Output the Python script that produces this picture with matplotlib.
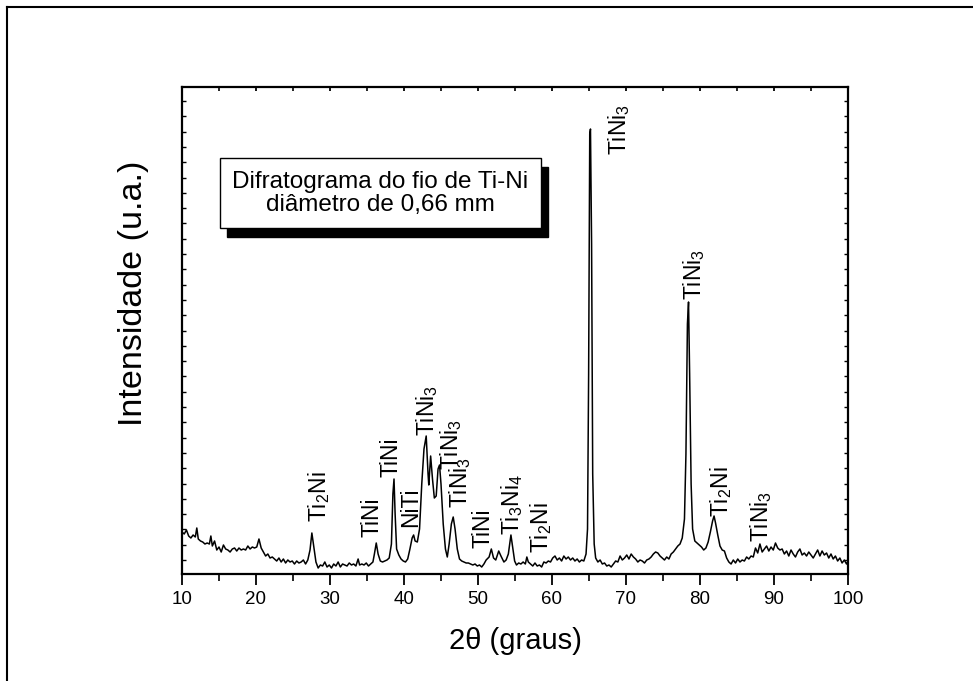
import numpy as np
import matplotlib
matplotlib.use("Agg")
import matplotlib.pyplot as plt
from matplotlib.patches import Rectangle
from matplotlib.lines import Line2D
from matplotlib.ticker import MultipleLocator, FixedLocator, NullFormatter

plt.rcParams['font.family'] = ['Liberation Sans', 'DejaVu Sans']
plt.rcParams['mathtext.fontset'] = 'custom'
plt.rcParams['mathtext.rm'] = 'Liberation Sans'
plt.rcParams['mathtext.it'] = 'Liberation Sans:italic'

# ---- data: 2theta (degrees) and intensity (a.u.) ----
two_theta = [
    10.0, 10.3, 10.6, 10.9, 11.2, 11.5, 11.8, 12.0, 12.2, 12.5, 12.8, 13.1, 13.4, 13.7, 13.9,
    14.1, 14.4, 14.7, 15.0, 15.3, 15.6, 15.9, 16.2, 16.5, 16.8, 17.1, 17.4, 17.7, 18.0, 18.3,
    18.6, 18.9, 19.2, 19.5, 19.8, 20.1, 20.4, 20.7, 21.0, 21.3, 21.6, 21.9, 22.2, 22.5, 22.8,
    23.1, 23.4, 23.7, 24.0, 24.3, 24.6, 24.9, 25.2, 25.5, 25.8, 26.1, 26.4, 26.7, 27.0, 27.3,
    27.55, 27.8, 28.1, 28.4, 28.7, 29.0, 29.3, 29.6, 29.9, 30.2, 30.5, 30.8, 31.1, 31.4, 31.7,
    32.0, 32.3, 32.6, 32.9, 33.2, 33.5, 33.8, 34.0, 34.3, 34.6, 34.9, 35.2, 35.5, 35.8, 36.0,
    36.25, 36.5, 36.8, 37.1, 37.4, 37.7, 38.0, 38.3, 38.5, 38.65, 38.8, 39.0, 39.3, 39.6, 39.9,
    40.2, 40.5, 40.8, 41.1, 41.3, 41.5, 41.8, 42.1, 42.4, 42.7, 43.0, 43.25, 43.35, 43.6, 43.85,
    44.1, 44.35, 44.6, 44.8, 45.0, 45.3, 45.6, 45.85, 46.1, 46.4, 46.65, 46.9, 47.2, 47.5, 47.8,
    48.1, 48.4, 48.7, 49.0, 49.3, 49.6, 49.9, 50.2, 50.5, 50.8, 51.1, 51.5, 51.8, 52.1, 52.4,
    52.8, 53.1, 53.5, 53.8, 54.1, 54.45, 54.7, 54.95, 55.2, 55.5, 55.8, 56.1, 56.4, 56.6, 56.8,
    57.1, 57.4, 57.7, 58.0, 58.3, 58.6, 58.9, 59.2, 59.5, 59.8, 60.1, 60.4, 60.7, 61.0, 61.3,
    61.6, 61.9, 62.2, 62.5, 62.8, 63.1, 63.4, 63.7, 64.0, 64.3, 64.6, 64.8, 64.95, 65.1, 65.2,
    65.35, 65.5, 65.7, 65.9, 66.2, 66.5, 66.8, 67.1, 67.4, 67.7, 68.0, 68.3, 68.6, 68.9, 69.2,
    69.5, 69.8, 70.1, 70.4, 70.7, 71.0, 71.3, 71.6, 71.9, 72.2, 72.5, 72.8, 73.1, 73.4, 73.7,
    74.0, 74.3, 74.6, 74.9, 75.2, 75.5, 75.8, 76.1, 76.4, 76.7, 77.0, 77.3, 77.6, 77.9, 78.1,
    78.3, 78.45, 78.6, 78.8, 79.0, 79.3, 79.6, 79.9, 80.2, 80.5, 80.8, 81.1, 81.4, 81.7, 81.9,
    82.1, 82.4, 82.7, 83.0, 83.3, 83.6, 83.9, 84.2, 84.5, 84.8, 85.1, 85.4, 85.7, 86.0, 86.3,
    86.6, 86.9, 87.2, 87.5, 87.8, 88.1, 88.4, 88.7, 89.0, 89.3, 89.6, 89.9, 90.2, 90.5, 90.8,
    91.1, 91.4, 91.7, 92.0, 92.3, 92.6, 92.9, 93.2, 93.5, 93.8, 94.1, 94.4, 94.7, 95.0, 95.3,
    95.6, 95.9, 96.2, 96.5, 96.8, 97.1, 97.4, 97.7, 98.0, 98.3, 98.6, 98.9, 99.2, 99.5, 99.8,
    100.0,
]
intensity = [
    42, 40, 44, 38, 36, 39, 37, 46, 35, 33, 32, 30, 31, 30, 38,
    28, 33, 24, 27, 22, 29, 25, 24, 22, 25, 26, 23, 26, 24, 25,
    24, 28, 25, 27, 26, 27, 35, 26, 22, 18, 20, 16, 17, 15, 13,
    16, 12, 15, 11, 14, 12, 13, 10, 13, 11, 12, 14, 10, 14, 24,
    41, 28, 12, 6, 9, 8, 12, 7, 9, 6, 10, 8, 12, 7, 10,
    9, 8, 11, 9, 10, 8, 15, 9, 10, 9, 11, 8, 10, 12, 20,
    31, 20, 13, 12, 13, 14, 16, 30, 80, 95, 60, 25, 19, 15, 13,
    12, 15, 25, 36, 39, 33, 32, 45, 90, 125, 138, 100, 89, 118, 95,
    76, 78, 105, 109, 90, 50, 25, 17, 30, 50, 57, 45, 25, 15, 13,
    12, 11, 11, 10, 9, 10, 8, 9, 7, 10, 14, 17, 25, 16, 14,
    23, 18, 12, 14, 20, 39, 26, 13, 9, 11, 10, 12, 10, 17, 12,
    10, 8, 11, 8, 9, 7, 12, 11, 13, 12, 16, 18, 14, 16, 13,
    18, 15, 17, 14, 16, 13, 15, 12, 14, 13, 20, 45, 200, 440, 445,
    330, 100, 30, 16, 12, 14, 10, 11, 8, 9, 7, 10, 13, 12, 18,
    14, 16, 19, 15, 20, 17, 15, 12, 14, 13, 11, 14, 15, 17, 20,
    22, 21, 18, 16, 14, 17, 15, 20, 22, 25, 28, 30, 36, 55, 120,
    250, 272, 200, 90, 45, 33, 31, 29, 27, 24, 26, 32, 42, 53, 58,
    51, 39, 28, 24, 23, 16, 12, 10, 14, 11, 15, 12, 14, 13, 17,
    15, 18, 17, 26, 21, 30, 22, 25, 28, 23, 27, 24, 31, 26, 24,
    25, 20, 23, 18, 24, 20, 17, 22, 25, 19, 21, 18, 22, 19, 16,
    20, 24, 18, 23, 19, 21, 16, 20, 15, 18, 13, 16, 11, 14, 10,
    13,
]

# ---- peak labels ----
label_text = [r'Ti$_\mathregular{2}$Ni', 'TiNi', 'TiNi', 'NiTi',
              r'TiNi$_\mathregular{3}$', r'TiNi$_\mathregular{3}$', r'TiNi$_\mathregular{3}$',
              'TiNi', r'Ti$_\mathregular{3}$Ni$_\mathregular{4}$', r'Ti$_\mathregular{2}$Ni',
              r'TiNi$_\mathregular{3}$', r'TiNi$_\mathregular{3}$', r'Ti$_\mathregular{2}$Ni',
              r'TiNi$_\mathregular{3}$']
label_x = [28.5, 35.7, 38.2, 40.9, 43.05, 46.3, 47.6, 50.7, 54.6, 58.5, 69.05, 79.2, 82.8, 88.3]
label_y = [52, 37, 97, 47, 138, 104, 66, 26, 39, 21, 419, 274, 57, 32]

W, H = 973, 681
fig = plt.figure(figsize=(W / 100, H / 100), dpi=100)
fig.patch.set_facecolor('white')

# outer frame (left and top edges visible)
fig.add_artist(Line2D([7 / W, 7 / W], [0, 1 - 7 / H], transform=fig.transFigure, color='black', lw=1.5))
fig.add_artist(Line2D([7 / W, 1], [1 - 7 / H, 1 - 7 / H], transform=fig.transFigure, color='black', lw=1.5))

ax = fig.add_axes([182 / W, 1 - 574 / H, 666 / W, 487 / H])
ax.plot(two_theta, intensity, color='black', lw=1.1)
ax.set_xlim(10, 100)
ax.set_ylim(0, 487)

for s in ax.spines.values():
    s.set_linewidth(1.6)

ax.xaxis.set_major_locator(MultipleLocator(10))
ax.xaxis.set_minor_locator(MultipleLocator(5))
ax.tick_params(axis='x', which='major', direction='out', length=8, width=1.3,
               labelsize=13.5, pad=4, top=True)
ax.tick_params(axis='x', which='minor', direction='out', length=5, width=1.2, top=True)
for t in ax.xaxis.get_major_ticks() + ax.xaxis.get_minor_ticks():
    t.tick2line.set_marker(3)  # inward at top
    t.tick2line.set_markersize(3)

ax.yaxis.set_major_locator(FixedLocator(np.arange(14, 487, 15.3)))
ax.yaxis.set_major_formatter(NullFormatter())
ax.tick_params(axis='y', which='major', direction='in', length=3, width=1.0, right=True)

ax.set_xlabel('2θ (graus)', fontsize=21, labelpad=14)
ax.set_ylabel('Intensidade (u.a.)', fontsize=24.5)
ax.yaxis.set_label_coords(-0.05, 0.577)

for txt, xx, yy in zip(label_text, label_x, label_y):
    ax.text(xx, yy, txt, rotation=90, ha='center', va='bottom', fontsize=16.5)

# title box with shadow
ax.add_patch(Rectangle((0.0676, 0.692), 0.482, 0.144, transform=ax.transAxes,
                       facecolor='black', edgecolor='black', zorder=4))
ax.add_patch(Rectangle((0.0571, 0.7105), 0.482, 0.1435, transform=ax.transAxes,
                       facecolor='white', edgecolor='black', lw=1.0, zorder=5))
ax.text(0.298, 0.782, 'Difratograma do fio de Ti-Ni\ndiâmetro de 0,66 mm',
        transform=ax.transAxes, ha='center', va='center', fontsize=17.5,
        linespacing=1.05, zorder=6)

fig.savefig('out.png', dpi=100)
